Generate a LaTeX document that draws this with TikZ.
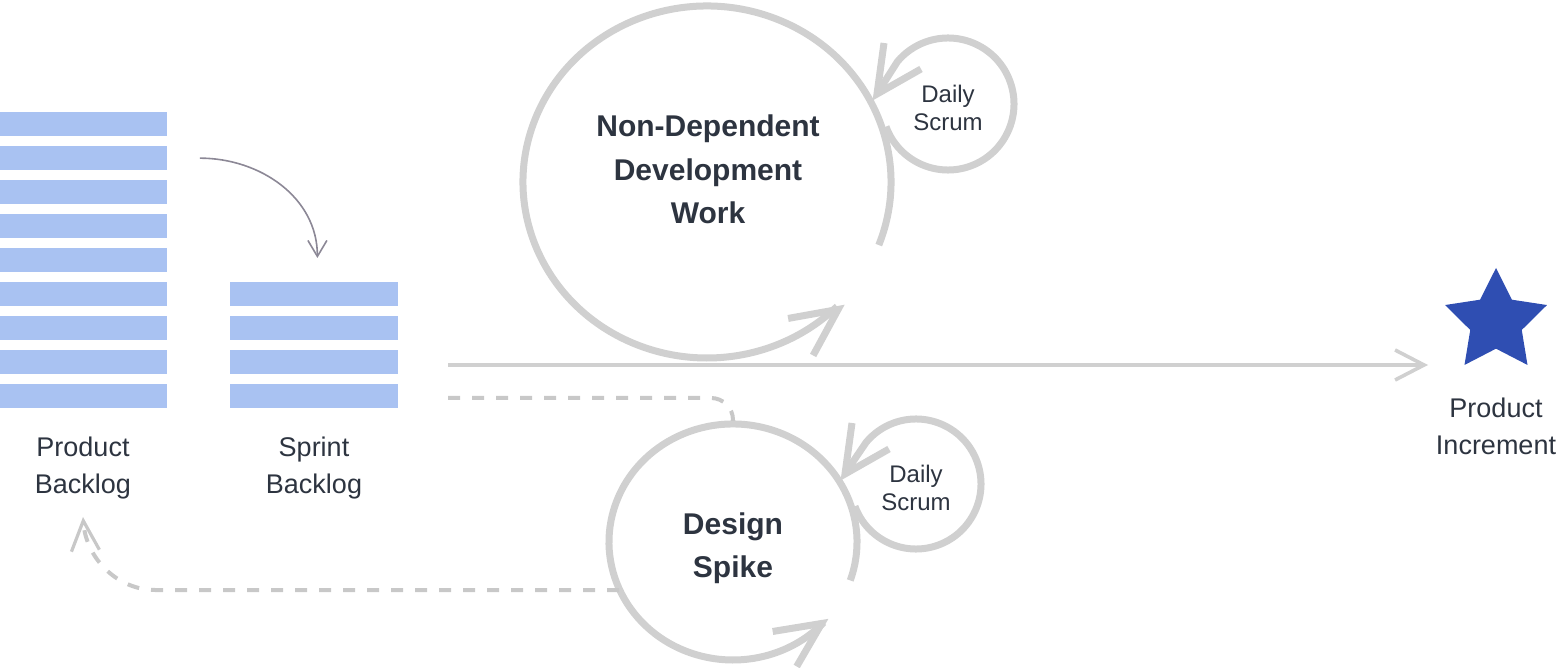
\documentclass[tikz,border=0pt]{standalone}
\usepackage{fontspec}
\setmainfont{Liberation Sans}
\usetikzlibrary{arrows.meta,shapes.geometric}
\definecolor{barblue}{RGB}{169,194,242}
\definecolor{loopgray}{RGB}{208,208,208}
\definecolor{dashgray}{RGB}{200,200,200}
\definecolor{txt}{RGB}{45,52,64}
\definecolor{pullgray}{RGB}{140,136,150}
\definecolor{starblue}{RGB}{47,78,178}
\begin{document}
\begin{tikzpicture}[x=0.5pt,y=-0.5pt,
  bar/.style={fill=barblue, draw=none, minimum height=11.75pt, inner sep=0pt, anchor=north west},
  lbl/.style={font=\fontsize{13.5}{18.5}\selectfont, text=txt, align=center, inner sep=0pt},
  title/.style={font=\fontsize{15}{21.75}\selectfont\bfseries, text=txt, align=center, inner sep=0pt},
  small/.style={font=\fontsize{12}{14}\selectfont, text=txt, align=center, inner sep=0pt},
  midbarb/.tip={Straight Barb[length=14.5pt, width=15pt, line width=1.8pt, sharp]},
  backbarb/.tip={Straight Barb[length=15pt, width=14pt, line width=1.6pt, sharp]},
  thinbarb/.tip={Straight Barb[length=8pt, width=9.5pt, line width=0.8pt, sharp]},
  loopline/.style={draw=loopgray, line width=3.5pt},
  loophead/.style={draw=loopgray, line width=3.5pt, line cap=butt, line join=miter},
  flow/.style={draw=loopgray, line width=1.75pt, -midbarb},
  dashflow/.style={draw=dashgray, line width=2pt, dash pattern=on 6pt off 6pt},
  pull/.style={draw=pullgray, line width=0.8pt, -thinbarb}
]
\useasboundingbox (0,0) rectangle (1560,668);

% backlogs
\foreach \i in {1,...,9}
  \node[bar, minimum width=83.5pt] (pb\i) at (0,{112+34*(\i-1)}) {};
\foreach \i in {1,...,4}
  \node[bar, minimum width=84pt] (sb\i) at (230,{282+34*(\i-1)}) {};
\node[lbl] (pblabel) at (83,468) {Product\\Backlog};
\node[lbl] (sblabel) at (314,468) {Sprint\\Backlog};
\draw[pull] ([xshift=16pt]pb2.east) to[out=0,in=90] ([xshift=1.5pt,yshift=12pt]sb1.north);

% main flow
\coordinate (flowstart) at (448,365);
\coordinate (flowend) at (1428,365);
\draw[flow] (flowstart) -- (flowend);
\node[star, star points=5, star point ratio=1.98, minimum size=53.6pt, inner sep=0pt, fill=starblue] (inc) at (1496,321.6) {};
\node[lbl] (inclabel) at (1496,426) {Product\\Increment};

% non-dependent development loop
\coordinate (ndwc) at (707,182);
\draw[loopline] ([shift={(21:184 and 176)}]ndwc) arc[start angle=21, end angle=-315, x radius=184, y radius=176] coordinate (ndwend);
\coordinate (ndwtip) at ([shift={(1,3)}]ndwend);
\draw[loophead] ([shift={(-50,9)}]ndwtip) -- (ndwtip) -- ([shift={(-25,46)}]ndwtip);
\node[title] (ndwlabel) at (708,169.5) {Non-Dependent\\Development\\Work};
\coordinate (scA) at (948,104);
\coordinate (tipA) at (877,94);
\draw[loopline] ([shift={(160:66)}]scA) arc[start angle=160, end angle=-140, radius=66] -- ([shift={(3,-5)}]tipA);
\draw[loophead] ([shift={(7,-51)}]tipA) -- (tipA) -- ([shift={(44,-25)}]tipA);
\node[small] (scAlabel) at (948,108) {Daily\\Scrum};

% design spike loop
\coordinate (dsc) at (733,542);
\draw[loopline] ([shift={(19:124 and 118)}]dsc) arc[start angle=19, end angle=-317, x radius=124, y radius=118] coordinate (dsend);
\coordinate (dstip) at ([shift={(-2,1)}]dsend);
\draw[loophead] ([shift={(-49,8)}]dstip) -- (dstip) -- ([shift={(-25,43)}]dstip);
\node[title] (dslabel) at (733,548) {Design\\Spike};
\coordinate (scB) at (916,484);
\coordinate (tipB) at (845,474);
\draw[loopline] ([shift={(160:65)}]scB) arc[start angle=160, end angle=-140, radius=65] -- ([shift={(3,-5)}]tipB);
\draw[loophead] ([shift={(7,-51)}]tipB) -- (tipB) -- ([shift={(44,-25)}]tipB);
\node[small] (scBlabel) at (916,488) {Daily\\Scrum};

% dashed paths
\coordinate (dashstart) at (448,398);
\coordinate (dstop) at (733,421);
\draw[dashflow, rounded corners=11pt] (dashstart) -| (dstop);
\coordinate (dsleft) at (619,590);
\coordinate (pbreturn) at (83,517);
\draw[dashflow, -backbarb] (dsleft) -- (155,590) .. controls (118,590) and (86,559) .. (pbreturn);
\end{tikzpicture}
\end{document}
